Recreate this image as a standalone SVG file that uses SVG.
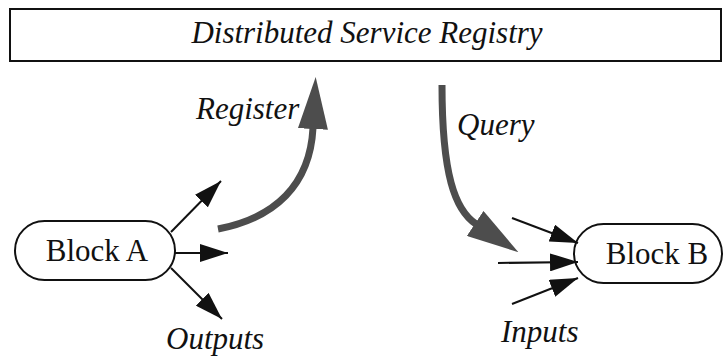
<svg xmlns="http://www.w3.org/2000/svg" width="728" height="358" viewBox="0 0 728 358">
<style>
.box{fill:#fff;stroke:#111;stroke-width:2}
.t{font-family:"Liberation Serif","Times New Roman",serif;fill:#111;font-size:31px}
.it{font-style:italic}
.thin{stroke:#111;stroke-width:2;fill:none}
.big{stroke:#4d4d4d;stroke-width:7;fill:none}
</style>
<defs>
<marker id="ah" viewBox="0 0 28 18" refX="28" refY="9" markerWidth="28" markerHeight="18" markerUnits="userSpaceOnUse" orient="auto"><path d="M0,0 L28,9 L0,18 z" fill="#111"/></marker>
<marker id="bh" viewBox="0 0 52 30" refX="1" refY="15" markerWidth="52" markerHeight="30" markerUnits="userSpaceOnUse" orient="auto"><path d="M0,0 L52,15 L0,30 z" fill="#4d4d4d"/></marker>
</defs>
<g id="registry">
<rect class="box" x="10" y="9" width="711" height="52"/>
<text class="t it" x="367" y="43" font-size="31.5" text-anchor="middle">Distributed Service Registry</text>
</g>
<g id="blockA">
<rect class="box" x="15" y="221" width="160" height="59" rx="29.5"/>
<text class="t" x="97" y="261" text-anchor="middle">Block A</text>
</g>
<g id="blockB">
<rect class="box" x="574" y="224" width="148" height="59" rx="29.5"/>
<text class="t" x="657" y="264" text-anchor="middle">Block B</text>
</g>
<g id="connectors">
<path class="big" d="M218,229 C275,218 310,185 313,128" marker-end="url(#bh)"/>
<path class="big" d="M442,85 C442,175 455,210 476,224" marker-end="url(#bh)"/>
<line class="thin" x1="171" y1="232" x2="221" y2="181" marker-end="url(#ah)"/>
<line class="thin" x1="175" y1="253" x2="228" y2="253" marker-end="url(#ah)"/>
<line class="thin" x1="171" y1="268" x2="222" y2="319" marker-end="url(#ah)"/>
<line class="thin" x1="512" y1="218" x2="578" y2="243" marker-end="url(#ah)"/>
<line class="thin" x1="498" y1="263" x2="578" y2="262" marker-end="url(#ah)"/>
<line class="thin" x1="512" y1="304" x2="578" y2="278" marker-end="url(#ah)"/>
</g>
<g id="labels">
<text class="t it" x="196" y="119">Register</text>
<text class="t it" x="457" y="135">Query</text>
<text class="t it" x="166" y="349">Outputs</text>
<text class="t it" x="501" y="342">Inputs</text>
</g>
</svg>
